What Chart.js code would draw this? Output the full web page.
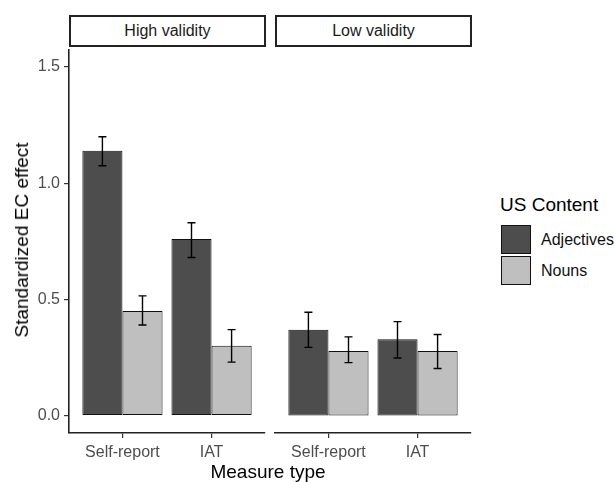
<!DOCTYPE html>
<html>
<head>
<meta charset="utf-8">
<script src="https://cdn.jsdelivr.net/npm/chart.js@4"></script>
<style>
  body { margin: 0; background: #fff; font-family: "Liberation Sans", Arial, sans-serif; }
  #wrap { position: relative; width: 615px; height: 482px; overflow: hidden; }
  canvas { position: absolute; }
  .strip { position: absolute; box-sizing: border-box; border: 2px solid #222; background: #fff;
           font-size: 16px; color: #1a1a1a; text-align: center; line-height: 27px; }
  .txt { position: absolute; white-space: nowrap; }
  .key { position: absolute; box-sizing: border-box; width: 30px; height: 29px; border: 1.5px solid #111; }
</style>
</head>
<body>
<div id="wrap">
  <canvas id="panelHigh"></canvas>
  <canvas id="panelLow"></canvas>
  <div class="strip" id="stripHigh" style="left:69px; top:15px; width:197px; height:32px;"></div>
  <div class="strip" id="stripLow" style="left:275px; top:15px; width:197px; height:32px;"></div>
  <div class="txt" id="yTitle" style="left:22px; top:240px; font-size:19px; transform: translate(-50%, -50%) rotate(-90deg);"></div>
  <div class="txt" id="xTitle" style="left:268px; top:472px; font-size:19px; transform: translate(-50%, -50%);"></div>
  <div class="txt" id="legendTitle" style="left:500px; top:205px; font-size:19px; transform: translateY(-50%);"></div>
  <div id="legendItems"></div>
</div>
<script>
// facets, x categories, fill groups
const panels = ['High validity', 'Low validity'];
const measures = ['Self-report', 'IAT'];
const contents = ['Adjectives', 'Nouns'];
const contentColors = ['#4d4d4d', '#bfbfbf'];
const yTicks = [0, 0.5, 1.0, 1.5];

// means, per measure
const highAdjectives = [1.14, 0.76];
const highNouns = [0.45, 0.30];
const lowAdjectives = [0.365, 0.325];
const lowNouns = [0.275, 0.275];

// error bar ends [low, high]
const highAdjectivesErr = [[1.075, 1.20], [0.68, 0.83]];
const highNounsErr = [[0.39, 0.515], [0.23, 0.37]];
const lowAdjectivesErr = [[0.29, 0.44], [0.245, 0.40]];
const lowNounsErr = [[0.225, 0.335], [0.20, 0.345]];

const FONT = '"Liberation Sans", Arial, sans-serif';

document.getElementById('stripHigh').textContent = panels[0];
document.getElementById('stripLow').textContent = panels[1];
document.getElementById('yTitle').textContent = 'Standardized EC effect';
document.getElementById('xTitle').textContent = 'Measure type';
document.getElementById('legendTitle').textContent = 'US Content';

// legend keys
const legendBox = document.getElementById('legendItems');
contents.forEach((name, i) => {
    const key = document.createElement('div');
    key.className = 'key';
    key.style.left = '501px';
    key.style.top = (225 + i * 31) + 'px';
    key.style.background = contentColors[i];
    legendBox.appendChild(key);
    const lab = document.createElement('div');
    lab.className = 'txt';
    lab.style.left = '541px';
    lab.style.top = (240 + i * 31) + 'px';
    lab.style.fontSize = '16px';
    lab.style.color = '#111';
    lab.style.transform = 'translateY(-50%)';
    lab.textContent = name;
    legendBox.appendChild(lab);
});

// draws the error bars from the bar positions
const errorBars = {
    id: 'errorBars',
    afterDatasetsDraw(chart) {
        const ctx = chart.ctx;
        const yScale = chart.scales.y;
        ctx.save();
        ctx.strokeStyle = '#000';
        ctx.lineWidth = 1.4;
        chart.data.datasets.forEach((ds, di) => {
            const meta = chart.getDatasetMeta(di);
            meta.data.forEach((bar, i) => {
                const lo = yScale.getPixelForValue(ds.errors[i][0]);
                const hi = yScale.getPixelForValue(ds.errors[i][1]);
                const x = bar.x;
                ctx.beginPath();
                ctx.moveTo(x, lo); ctx.lineTo(x, hi);
                ctx.moveTo(x - 4, lo); ctx.lineTo(x + 4, lo);
                ctx.moveTo(x - 4, hi); ctx.lineTo(x + 4, hi);
                ctx.stroke();
            });
        });
        ctx.restore();
    }
};

function makePanel(canvasId, left, width, adj, adjErr, nouns, nounsErr, showY) {
    const canvas = document.getElementById(canvasId);
    canvas.style.left = left + 'px';
    canvas.style.top = '36px';
    canvas.width = width;
    canvas.height = 446;
    canvas.style.width = width + 'px';
    canvas.style.height = '446px';

    const toPoints = arr => arr.map((v, i) => ({ x: i + 1, y: v }));

    return new Chart(canvas.getContext('2d'), {
        type: 'bar',
        data: {
            datasets: [
                {
                    label: contents[0],
                    data: toPoints(adj),
                    errors: adjErr,
                    backgroundColor: contentColors[0],
                    borderColor: '#111',
                    borderWidth: 1,
                    borderSkipped: false
                },
                {
                    label: contents[1],
                    data: toPoints(nouns),
                    errors: nounsErr,
                    backgroundColor: contentColors[1],
                    borderColor: '#111',
                    borderWidth: 1,
                    borderSkipped: false
                }
            ]
        },
        options: {
            responsive: false,
            animation: false,
            events: [],
            categoryPercentage: 0.9,
            barPercentage: 1.0,
            layout: { padding: { top: 10, left: showY ? 0 : 5, right: 1, bottom: 0 } },
            scales: {
                x: {
                    type: 'linear',
                    offset: false,
                    min: 0.4,
                    max: 2.6,
                    afterBuildTicks: s => { s.ticks = measures.map((m, i) => ({ value: i + 1 })); },
                    afterFit: s => { s.height = 49; s.paddingLeft = 0; s.paddingRight = 0; },
                    ticks: {
                        callback: v => measures[v - 1],
                        color: '#4d4d4d',
                        font: { family: FONT, size: 16 },
                        padding: 5,
                        maxRotation: 0,
                        autoSkip: false
                    },
                    grid: { display: true, offset: false, drawOnChartArea: false, drawTicks: true, tickLength: 5, color: '#333', lineWidth: 1.2 },
                    border: { display: true, color: '#222', width: 1.6 }
                },
                y: {
                    display: showY,
                    min: -0.075,
                    max: 1.575,
                    afterBuildTicks: s => { s.ticks = yTicks.map(v => ({ value: v })); },
                    afterFit: s => { if (showY) s.width = 69; },
                    ticks: {
                        callback: v => v.toFixed(1),
                        color: '#4d4d4d',
                        font: { family: FONT, size: 16 },
                        padding: 4
                    },
                    grid: { display: true, drawOnChartArea: false, drawTicks: true, tickLength: 5, color: '#333', lineWidth: 1.2 },
                    border: { display: true, color: '#222', width: 1.6 }
                }
            },
            plugins: {
                legend: { display: false },
                tooltip: { enabled: false }
            }
        },
        plugins: [errorBars]
    });
}

makePanel('panelHigh', 0, 266, highAdjectives, highAdjectivesErr, highNouns, highNounsErr, true);
makePanel('panelLow', 270, 202, lowAdjectives, lowAdjectivesErr, lowNouns, lowNounsErr, false);
</script>
</body>
</html>
